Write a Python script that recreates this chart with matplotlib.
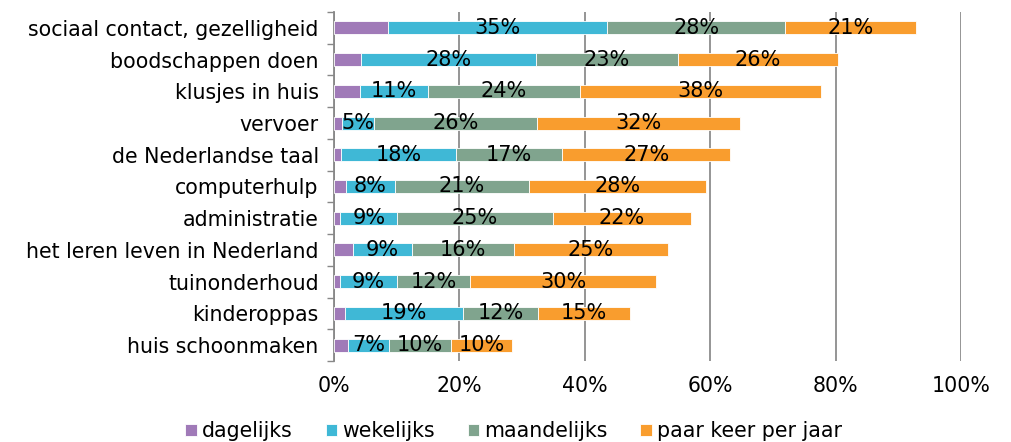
import matplotlib
matplotlib.use("Agg")
import matplotlib.pyplot as plt
import numpy as np

categories = ["sociaal contact, gezelligheid", "boodschappen doen", "klusjes in huis",
              "vervoer", "de Nederlandse taal", "computerhulp", "administratie",
              "het leren leven in Nederland", "tuinonderhoud", "kinderoppas",
              "huis schoonmaken"]
dagelijks = [8.6, 4.3, 4.2, 1.2, 1.1, 1.9, 1.0, 3.1, 1.0, 1.7, 2.2]
wekelijks = [35.0, 27.9, 10.8, 5.1, 18.3, 7.8, 9.1, 9.3, 9.0, 18.9, 6.6]
maandelijks = [28.3, 22.6, 24.2, 26.1, 17.0, 21.4, 24.8, 16.3, 11.7, 11.9, 9.9]
paar_keer = [20.9, 25.6, 38.4, 32.4, 26.8, 28.3, 22.1, 24.6, 29.7, 14.7, 9.7]
series_names = ["dagelijks", "wekelijks", "maandelijks", "paar keer per jaar"]
xticks = [0, 20, 40, 60, 80, 100]

colors = ["#A07AB8", "#3FB8D6", "#80A48E", "#F99D2E"]
show_labels = [False, True, True, True]

fig = plt.figure(figsize=(10.11, 4.42), dpi=100)
ax = fig.add_axes([334/1011, 1 - 361/442, (961-334)/1011, (361-12)/442])

y = np.arange(len(categories))
left = np.zeros(len(categories))
for vals, name, col, lab in zip([dagelijks, wekelijks, maandelijks, paar_keer],
                                series_names, colors, show_labels):
    vals = np.array(vals)
    ax.barh(y, vals, left=left, height=0.41, color=col, label=name,
            edgecolor="white", linewidth=0.6, zorder=3)
    if lab:
        for yi, l, v in zip(y, left, vals):
            ax.text(l + v/2, yi, f"{v:.0f}%", ha="center", va="center",
                    fontsize=15, color="black", zorder=4)
    left += vals

ax.set_ylim(len(categories) - 0.5, -0.5)
ax.set_xlim(0, 100)
ax.set_yticks(y)
ax.set_yticklabels(categories, fontsize=14.8)
ax.set_yticks(np.arange(-0.5, len(categories), 1), minor=True)
ax.tick_params(axis="y", which="major", length=0, pad=11)
ax.tick_params(axis="y", which="minor", length=5, color="#888888", width=1)
ax.set_xticks(xticks)
ax.set_xticklabels([f"{t}%" for t in xticks], fontsize=14.8)
ax.tick_params(axis="x", length=0, pad=11)
ax.grid(axis="x", color="#8c8c8c", linewidth=1.3, zorder=0)
for s in ["top", "right", "bottom"]:
    ax.spines[s].set_visible(False)
ax.spines["left"].set_color("#888888")
ax.spines["left"].set_linewidth(1.3)

fig.legend(loc="lower center", bbox_to_anchor=(0.508, -0.04), ncol=4, frameon=False,
           fontsize=14.8, handlelength=0.55, handleheight=0.55, handletextpad=0.25,
           columnspacing=1.6)

fig.savefig("out.png", dpi=100)
